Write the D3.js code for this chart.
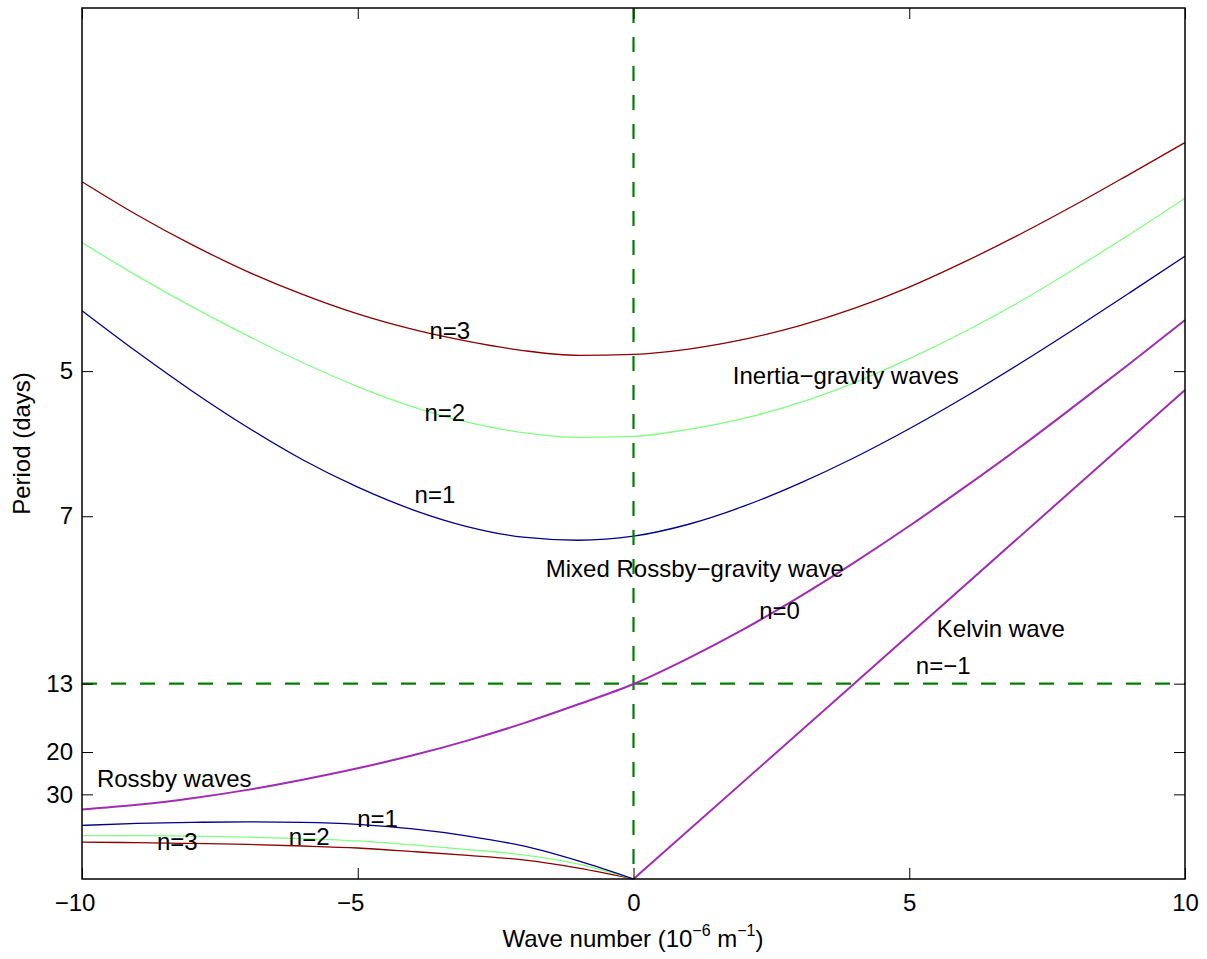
<!DOCTYPE html>
<html>
<head>
<meta charset="utf-8">
<script src="https://cdn.jsdelivr.net/npm/d3@7"></script>
<style>
body { margin: 0; background: #fff; }
text { font-family: "Liberation Sans", Arial, Helvetica, sans-serif; font-size: 24px; fill: #000; }
</style>
</head>
<body>
<svg id="chart" width="1207" height="959"></svg>
<script>
// wave number, 10^-6 m^-1
var kAll = [-10, -9, -8, -7, -6, -5, -4, -3, -2, -1, 0, 1, 2, 3, 4, 5, 6, 7, 8, 9, 10];
var kWest = [-10, -9, -8, -7, -6, -5, -4, -3, -2, -1, 0];
var kKelvin = [0, 4, 10];

// frequency (cycles per day)
var ig3 = [0.2746, 0.2615, 0.2497, 0.2392, 0.2302, 0.2225, 0.2164, 0.2117, 0.2081, 0.2062, 0.2066,
           0.2087, 0.2125, 0.2178, 0.2247, 0.2331, 0.2430, 0.2538, 0.2654, 0.2776, 0.2900];
var ig2 = [0.2506, 0.2375, 0.2253, 0.2140, 0.2034, 0.1939, 0.1859, 0.1798, 0.1758, 0.1739, 0.1743,
           0.1771, 0.1814, 0.1875, 0.1954, 0.2049, 0.2155, 0.2273, 0.2403, 0.2539, 0.2681];
var ig1 = [0.2238, 0.2075, 0.1921, 0.1779, 0.1651, 0.1543, 0.1454, 0.1387, 0.1346, 0.1334, 0.1350,
           0.1397, 0.1468, 0.1557, 0.1659, 0.1773, 0.1897, 0.2029, 0.2167, 0.2309, 0.2453];
var mrg = [0.0274, 0.0292, 0.0318, 0.0351, 0.0391, 0.0436, 0.0487, 0.0546, 0.0613, 0.0688, 0.0768,
           0.0870, 0.0984, 0.1110, 0.1246, 0.1390, 0.1542, 0.1699, 0.1863, 0.2030, 0.2201];
var kelvin = [0, 0.0769, 0.1926];
var rossby1 = [0.0211, 0.0219, 0.0223, 0.0225, 0.0223, 0.0215, 0.0197, 0.0169, 0.0130, 0.0071, 0];
var rossby2 = [0.0171, 0.0171, 0.0169, 0.0165, 0.0159, 0.0150, 0.0134, 0.0116, 0.0095, 0.0059, 0];
var rossby3 = [0.0145, 0.0143, 0.0140, 0.0136, 0.0130, 0.0122, 0.0108, 0.0093, 0.0075, 0.0043, 0];

var periodTicks = [5, 7, 13, 20, 30];
var kTicks = [-10, -5, 0, 5, 10];
var markPeriod = 13;

var labelText = ["n=3", "n=2", "n=1", "Inertia\u2212gravity waves", "Mixed Rossby\u2212gravity wave", "n=0",
                 "Kelvin wave", "n=\u22121", "Rossby waves", "n=1", "n=2", "n=3"];
var labelK = [-3.70, -3.79, -3.97, 1.80, -1.59, 2.28, 5.50, 5.12, -9.73, -5.01, -6.25, -8.64];
var labelF = [0.2125, 0.1805, 0.1482, 0.1949, 0.1189, 0.1024, 0.0952, 0.0806, 0.0363, 0.0206, 0.0134, 0.0114];

var svg = d3.select("#chart");
var padL = 82, padR = 1185, padT = 8, padB = 879;

var x = d3.scaleLinear().domain([-10, 10]).range([padL, padR]);
var y = d3.scaleLinear().domain([0, 0.343]).range([padB, padT]);

var line = d3.line()
    .x(d => x(d[0]))
    .y(d => y(d[1]))
    .curve(d3.curveMonotoneX);

function drawCurve(ks, vals, color, width) {
    svg.append("path")
        .datum(d3.zip(ks, vals))
        .attr("d", line)
        .attr("fill", "none")
        .attr("stroke", color)
        .attr("stroke-width", width);
}

drawCurve(kAll, ig3, "#8c0000", 1.3);
drawCurve(kAll, ig2, "#80ff80", 1.3);
drawCurve(kAll, ig1, "#00008c", 1.3);
drawCurve(kWest, rossby3, "#8c0000", 1.3);
drawCurve(kWest, rossby2, "#80ff80", 1.3);
drawCurve(kWest, rossby1, "#00008c", 1.3);

// dashed reference lines
svg.append("line")
    .attr("x1", x(0)).attr("x2", x(0))
    .attr("y1", y(0.343)).attr("y2", y(0))
    .attr("stroke", "#008000").attr("stroke-width", 2.2)
    .attr("stroke-dasharray", "15,14");
svg.append("line")
    .attr("x1", x(-10)).attr("x2", x(10))
    .attr("y1", y(1 / markPeriod)).attr("y2", y(1 / markPeriod))
    .attr("stroke", "#008000").attr("stroke-width", 2.2)
    .attr("stroke-dasharray", "15,14");

drawCurve(kAll, mrg, "#a02cb4", 2);
svg.append("path")
    .datum(d3.zip(kKelvin, kelvin))
    .attr("d", d3.line().x(d => x(d[0])).y(d => y(d[1])))
    .attr("fill", "none")
    .attr("stroke", "#a02cb4")
    .attr("stroke-width", 2);

// axes, ticks inside on all four sides
function fmtK(d) { return d < 0 ? "\u2212" + Math.abs(d) : d; }

var xAxis = svg.append("g")
    .attr("transform", "translate(0," + padB + ")")
    .call(d3.axisBottom(x).tickValues(kTicks).tickSizeInner(-11).tickSizeOuter(0).tickPadding(15).tickFormat(fmtK));
xAxis.selectAll("text").attr("dx", d => d < 0 ? -7.5 : 0);

svg.append("g")
    .attr("transform", "translate(0," + padT + ")")
    .call(d3.axisTop(x).tickValues(kTicks).tickSizeInner(-11).tickSizeOuter(0).tickFormat(""));

svg.append("g")
    .attr("transform", "translate(" + padL + ",0)")
    .call(d3.axisLeft(y).tickValues(periodTicks.map(p => 1 / p)).tickSizeInner(-11).tickSizeOuter(0)
        .tickPadding(9).tickFormat(f => Math.round(1 / f)));

svg.append("g")
    .attr("transform", "translate(" + padR + ",0)")
    .call(d3.axisRight(y).tickValues(periodTicks.map(p => 1 / p)).tickSizeInner(-11).tickSizeOuter(0).tickFormat(""));

svg.selectAll(".domain").remove();
svg.selectAll(".tick line").attr("stroke", "#000").attr("stroke-width", 1);
svg.selectAll(".tick text").style("font-size", "24px").attr("fill", "#000");

svg.append("rect")
    .attr("x", padL).attr("y", padT)
    .attr("width", padR - padL).attr("height", padB - padT)
    .attr("fill", "none").attr("stroke", "#000").attr("stroke-width", 1.5);

// annotations
labelText.forEach(function (t, i) {
    svg.append("text")
        .attr("x", x(labelK[i]))
        .attr("y", y(labelF[i]))
        .text(t);
});

// axis titles
var xt = svg.append("text")
    .attr("x", 633).attr("y", 947)
    .attr("text-anchor", "middle");
xt.append("tspan").text("Wave number (10");
xt.append("tspan").attr("dy", -10.6).style("font-size", "16px").text("\u22126");
xt.append("tspan").attr("dy", 10.6).text(" m");
xt.append("tspan").attr("dy", -10.6).style("font-size", "16px").text("\u22121");
xt.append("tspan").attr("dy", 10.6).text(")");

svg.append("text")
    .attr("transform", "translate(30," + ((padT + padB) / 2) + ") rotate(-90)")
    .attr("text-anchor", "middle")
    .text("Period (days)");
</script>
</body>
</html>
